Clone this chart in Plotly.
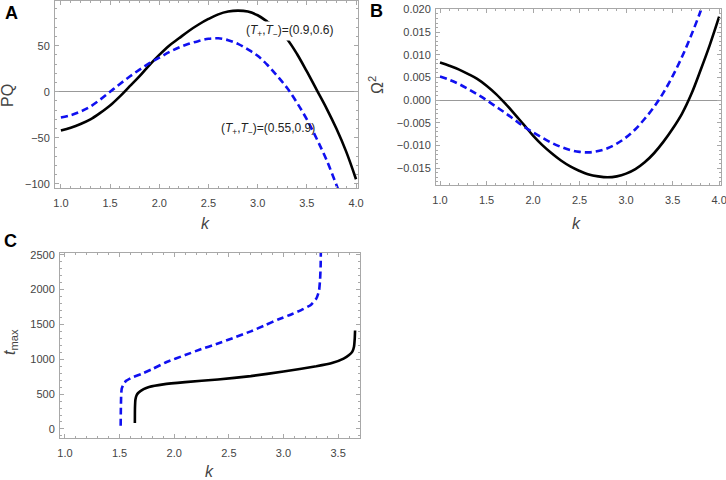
import plotly.graph_objects as go

W, H = 726, 480

# Panel A: PQ vs k
k_a_black = [1.0, 1.1, 1.2, 1.3, 1.4, 1.5, 1.6, 1.7, 1.8, 1.9, 2.0, 2.1, 2.2, 2.3, 2.4, 2.5,
             2.6, 2.7, 2.8, 2.9, 3.0, 3.1, 3.2, 3.3, 3.4, 3.5, 3.6, 3.7, 3.8, 3.9, 4.0]
pq_black = [-42, -39, -35, -30, -23, -15, -5, 6, 17, 29, 40, 50, 58, 66, 73, 79,
            84, 87, 88, 87, 83, 76, 68, 57, 41, 22, 2, -18, -40, -65, -95]
k_a_blue = [1.0, 1.1, 1.2, 1.3, 1.4, 1.5, 1.6, 1.7, 1.8, 1.9, 2.0, 2.1, 2.2, 2.3, 2.4, 2.5,
            2.6, 2.7, 2.8, 2.9, 3.0, 3.1, 3.2, 3.3, 3.4, 3.5, 3.6, 3.7, 3.8, 3.85]
pq_blue = [-28, -25.5, -21.5, -16, -8.5, 0, 8.5, 16.5, 24, 31, 37, 43, 48, 52, 55, 57.5,
           58, 56, 52, 46, 39, 29, 17, 4, -12, -30, -51, -74, -101, -115]

# Panel B: Omega^2 vs k
k_b_black = [1.0, 1.1, 1.2, 1.3, 1.4, 1.5, 1.6, 1.7, 1.8, 1.9, 2.0, 2.1, 2.2, 2.3, 2.4, 2.5,
             2.6, 2.7, 2.8, 2.9, 3.0, 3.1, 3.2, 3.3, 3.4, 3.5, 3.6, 3.7, 3.8, 3.9, 4.0]
om_black = [0.0083, 0.0076, 0.0068, 0.0058, 0.0047, 0.0032, 0.0014, -0.0007, -0.0030, -0.0054,
            -0.0078, -0.0099, -0.0117, -0.0133, -0.0146, -0.0156, -0.0164, -0.0168, -0.0170,
            -0.0168, -0.0162, -0.0152, -0.0137, -0.0117, -0.0092, -0.0063, -0.0030, 0.0013,
            0.0066, 0.0122, 0.0184]
k_b_blue = [1.0, 1.1, 1.2, 1.3, 1.4, 1.5, 1.6, 1.7, 1.8, 1.9, 2.0, 2.1, 2.2, 2.3, 2.4, 2.5,
            2.6, 2.7, 2.8, 2.9, 3.0, 3.1, 3.2, 3.3, 3.4, 3.5, 3.6, 3.7, 3.8, 3.85]
om_blue = [0.0052, 0.0045, 0.0036, 0.0025, 0.0013, 0.0000, -0.0014, -0.0028, -0.0043, -0.0058,
           -0.0071, -0.0083, -0.0094, -0.0103, -0.0110, -0.0114, -0.0115, -0.0112, -0.0106,
           -0.0096, -0.0082, -0.0064, -0.0041, -0.0015, 0.0016, 0.0053, 0.0095, 0.0143,
           0.0196, 0.0225]

# Panel C: t_max vs k
k_c_blue = [1.51, 1.512, 1.515, 1.52, 1.535, 1.56, 1.61, 1.7, 1.8, 1.93, 2.1, 2.23, 2.4,
            2.535, 2.7, 2.84, 2.95, 3.08, 3.18, 3.25, 3.30, 3.325, 3.335, 3.34, 3.342]
t_blue = [47, 300, 500, 580, 640, 690, 735, 790, 860, 960, 1060, 1136, 1225,
          1303, 1400, 1494, 1570, 1650, 1720, 1780, 1870, 1980, 2150, 2350, 2600]
k_c_black = [1.64, 1.641, 1.645, 1.655, 1.67, 1.72, 1.77, 1.9, 2.1, 2.4, 2.7, 3.0, 3.3,
             3.45, 3.55, 3.6, 3.63, 3.645, 3.652, 3.655]
t_black = [86, 300, 420, 480, 516, 570, 602, 640, 672, 710, 758, 825, 900,
           950, 1010, 1060, 1110, 1180, 1300, 1413]

label_black = "(<i>T</i><sub>+</sub>,<i>T</i><sub>\u2212</sub>)=(0.9,0.6)"
label_blue = "(<i>T</i><sub>+</sub>,<i>T</i><sub>\u2212</sub>)=(0.55,0.9)"

FONT = "Liberation Sans, Arial, sans-serif"
FRAME = "#a8a8a8"
TICKC = "#444444"
BLUE = "#1010f0"


def px(x):
    return x / W


def py(y):
    return 1 - y / H


def axis(domain, rng, dtick, minor, anchor, fmt, zero=False, standoff=0):
    return dict(
        domain=domain, range=rng, dtick=dtick, tickformat=fmt, anchor=anchor,
        automargin=False, ticklabelstandoff=standoff, ticklabeloverflow="allow",
        showline=True, linecolor=FRAME, linewidth=1, mirror="allticks",
        ticks="inside", ticklen=4, tickcolor=FRAME, tickwidth=1,
        minor=dict(dtick=minor, ticks="inside", ticklen=2, tickcolor=FRAME),
        showgrid=False, zeroline=zero, zerolinecolor="#999999", zerolinewidth=1,
        tickfont=dict(family=FONT, size=11, color=TICKC),
    )


black_line = dict(color="black", width=2.6)
blue_line = dict(color=BLUE, width=2.6, dash="7px,4px")

fig = go.Figure()
fig.add_trace(go.Scatter(x=k_a_black, y=pq_black, mode="lines", line=black_line,
                         line_shape="spline", xaxis="x", yaxis="y"))
fig.add_trace(go.Scatter(x=k_a_blue, y=pq_blue, mode="lines", line=blue_line,
                         line_shape="spline", xaxis="x", yaxis="y"))
fig.add_trace(go.Scatter(x=k_b_black, y=om_black, mode="lines", line=black_line,
                         line_shape="spline", xaxis="x2", yaxis="y2"))
fig.add_trace(go.Scatter(x=k_b_blue, y=om_blue, mode="lines", line=blue_line,
                         line_shape="spline", xaxis="x2", yaxis="y2"))
fig.add_trace(go.Scatter(x=k_c_black, y=t_black, mode="lines",
                         line=dict(black_line, shape="spline", smoothing=0.4),
                         xaxis="x3", yaxis="y3"))
fig.add_trace(go.Scatter(x=k_c_blue, y=t_blue, mode="lines",
                         line=dict(blue_line, shape="spline", smoothing=0.4),
                         xaxis="x3", yaxis="y3"))

annotations = [
    # panel letters
    dict(text="<b>A</b>", x=px(11), y=py(13)),
    dict(text="<b>B</b>", x=px(376), y=py(11)),
    dict(text="<b>C</b>", x=px(10), y=py(241)),
]
for a in annotations:
    a.update(font=dict(family=FONT, size=18, color="black"))

axis_titles = [
    dict(text="<i>k</i>", x=px(205), y=py(223), textangle=0),
    dict(text="PQ", x=px(8), y=py(96), textangle=-90),
    dict(text="<i>k</i>", x=px(576), y=py(223), textangle=0),
    dict(text="\u03a9<sup>2</sup>", x=px(376), y=py(85), textangle=-90),
    dict(text="<i>k</i>", x=px(210), y=py(471), textangle=0),
    dict(text="<i>t</i><sub>max</sub>", x=px(10), y=py(342), textangle=-90),
]
for a in axis_titles:
    a.update(font=dict(family=FONT, size=16, color=TICKC))
annotations += axis_titles

annotations += [
    dict(text=label_black, x=px(290), y=py(31), bgcolor="white", borderpad=1,
         font=dict(family=FONT, size=12, color="#222222")),
    dict(text=label_blue, x=px(268), y=py(129), borderpad=1,
         font=dict(family=FONT, size=12, color="#222222")),
]
for a in annotations:
    a.update(xref="paper", yref="paper", showarrow=False,
             xanchor="center", yanchor="middle")

fig.update_layout(
    width=W, height=H,
    margin=dict(l=0, r=0, t=0, b=0),
    paper_bgcolor="white", plot_bgcolor="white",
    showlegend=False,
    xaxis=axis([px(55), px(358)], [0.94, 4.02], 0.5, 0.1, "y", ".1f", standoff=5),
    yaxis=axis([py(188), py(1)], [-104.5, 98.5], 50, 10, "x", "d", zero=True, standoff=2),
    xaxis2=axis([px(436), px(721)], [0.957, 4.02], 0.5, 0.1, "y2", ".1f", standoff=5),
    yaxis2=axis([py(185), py(9)], [-0.0187, 0.0201], 0.005, 0.001, "x2", ".3f",
                zero=True, standoff=2),
    xaxis3=axis([px(60), px(360)], [0.955, 3.7], 0.5, 0.1, "y3", ".1f", standoff=5),
    yaxis3=axis([py(438), py(253)], [-130, 2525], 500, 100, "x3", "d", standoff=2),
    annotations=annotations,
)

fig.write_html("out.html", config={"displayModeBar": False},
               post_script="document.body.style.margin = '0';")
